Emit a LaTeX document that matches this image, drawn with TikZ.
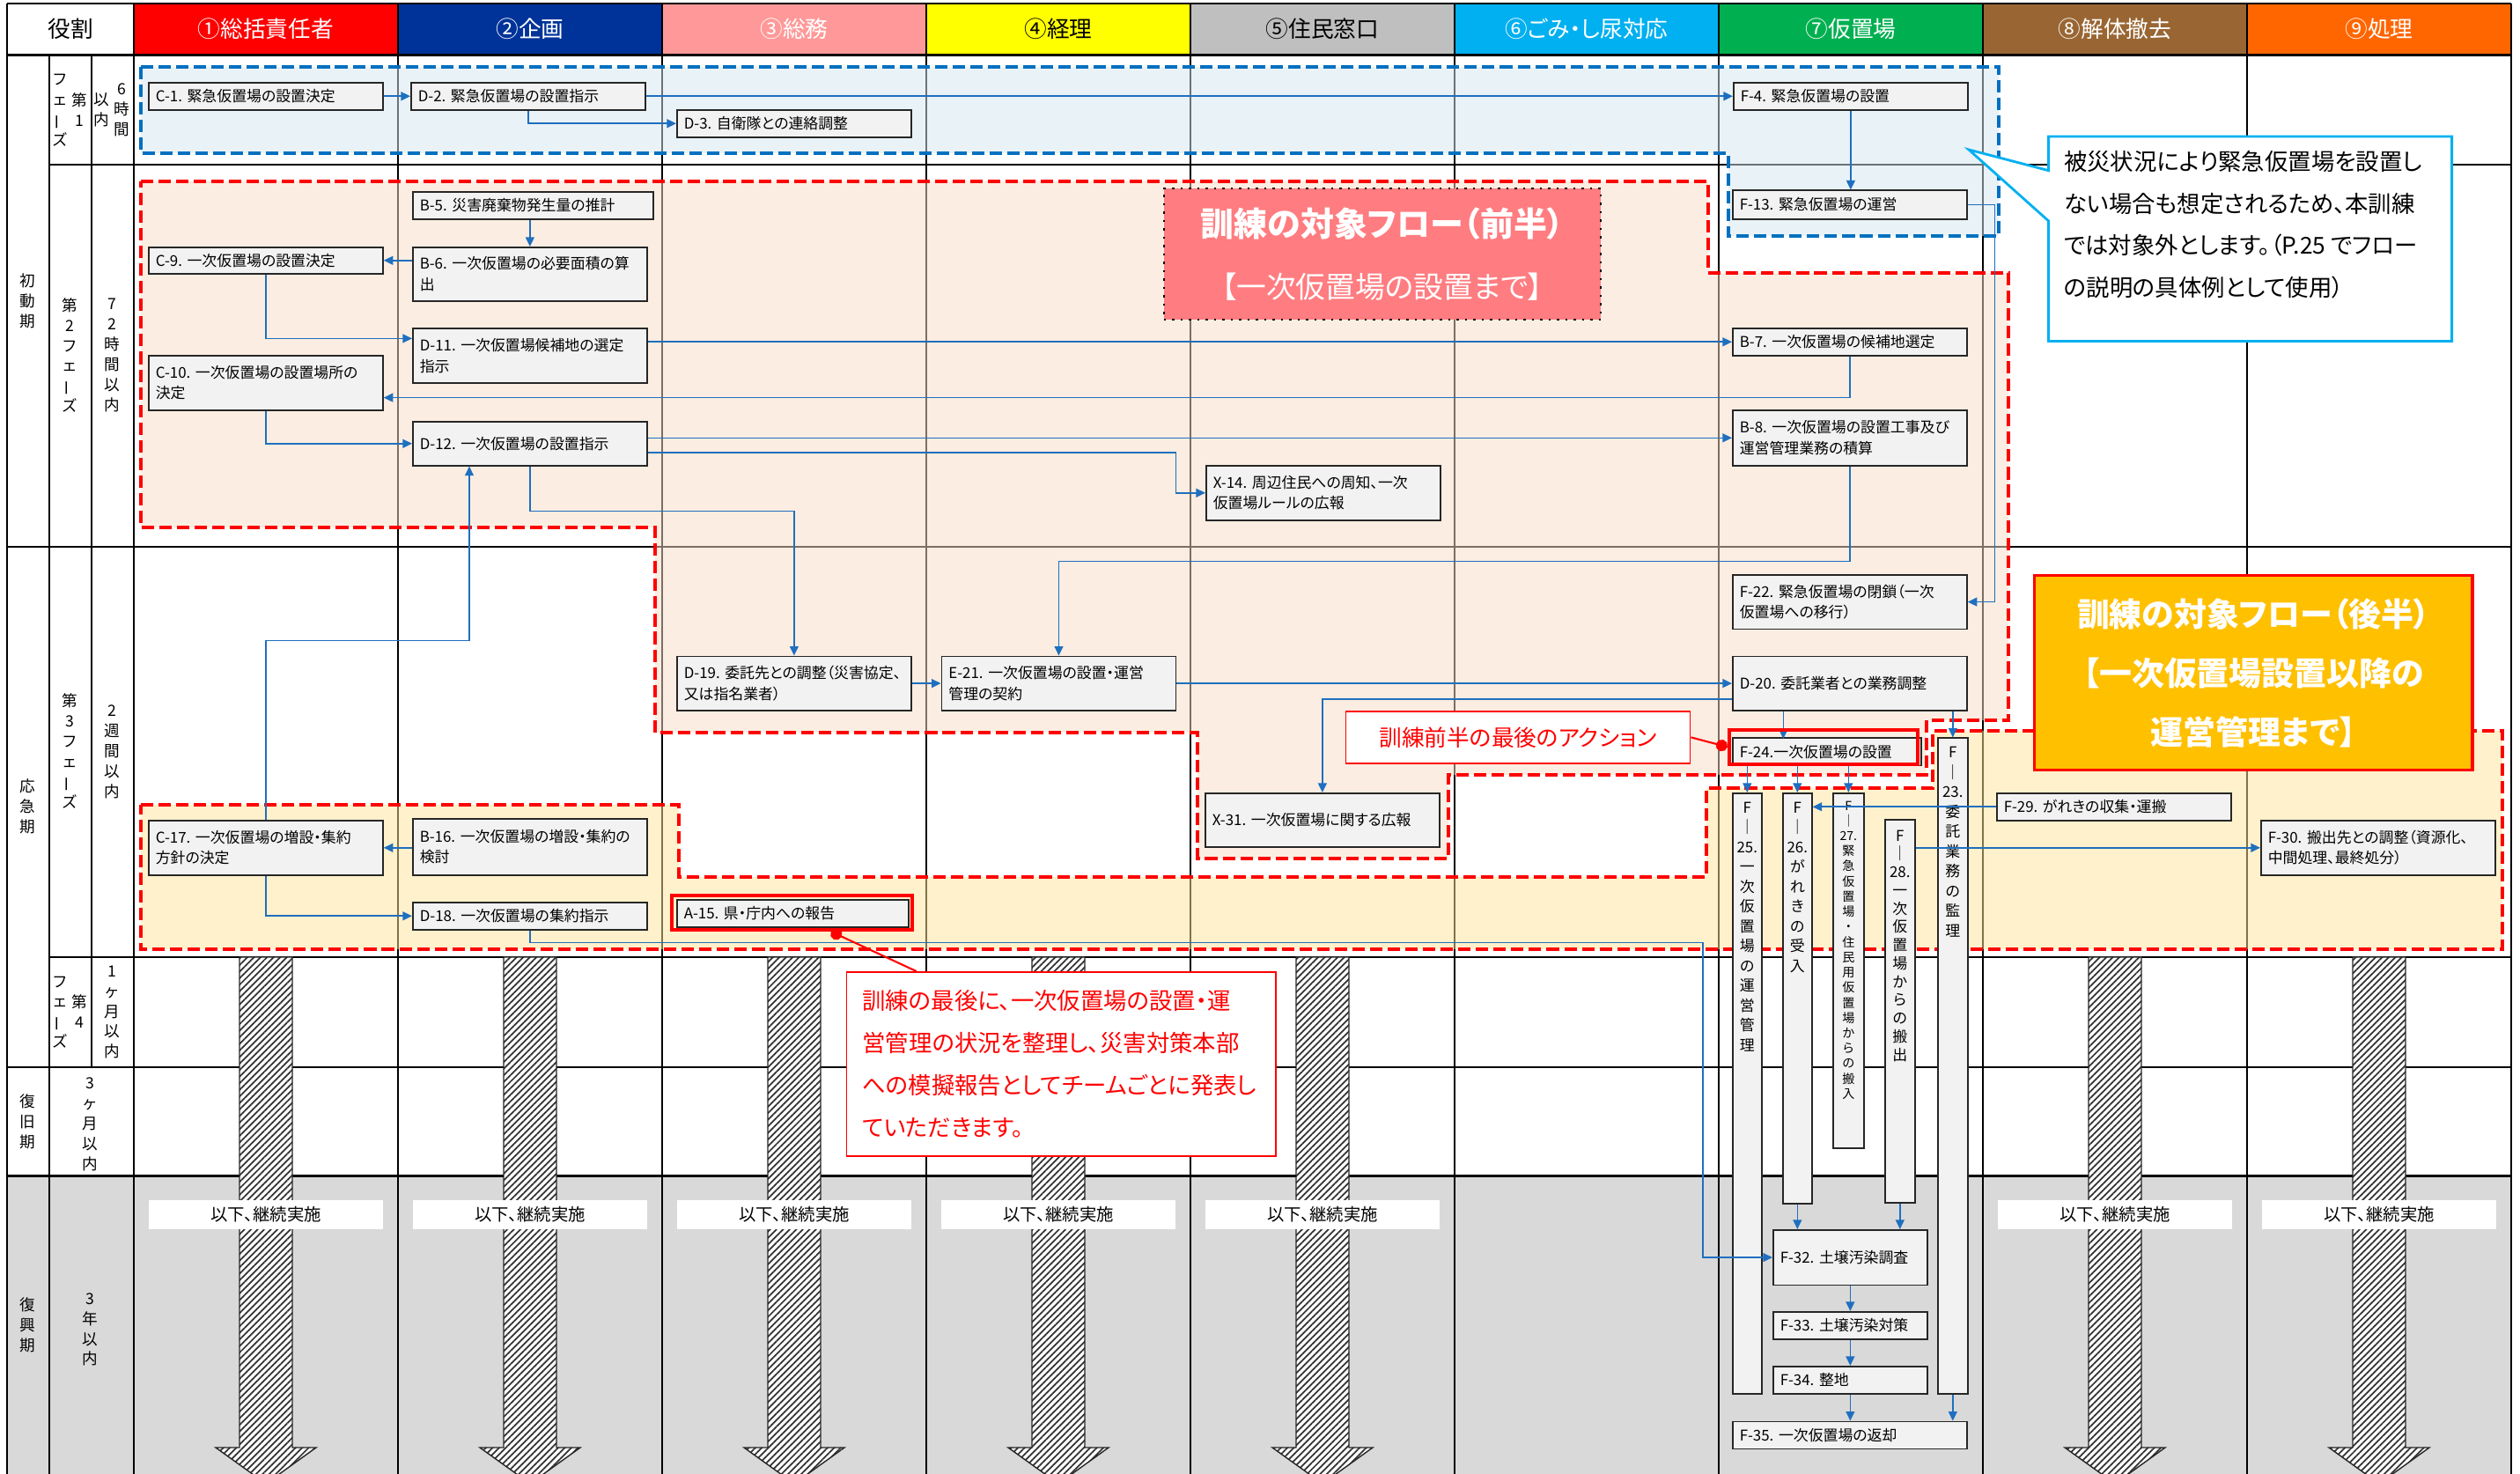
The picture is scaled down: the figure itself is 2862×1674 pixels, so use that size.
\documentclass[tikz,border=0pt]{standalone}
\usepackage{fontspec}
\setmainfont{Noto Sans CJK JP}[RawFeature=+palt]
\usepackage{graphicx}
\usetikzlibrary{arrows.meta,patterns.meta,positioning}
\definecolor{hdrred}{HTML}{FF0000}
\definecolor{hdrblue}{HTML}{003399}
\definecolor{hdrpink}{HTML}{FF9999}
\definecolor{hdryellow}{HTML}{FFFF00}
\definecolor{hdrgray}{HTML}{BFBFBF}
\definecolor{hdrcyan}{HTML}{00B0F0}
\definecolor{hdrgreen}{HTML}{00B050}
\definecolor{hdrbrown}{HTML}{996633}
\definecolor{hdrorange}{HTML}{FF6600}
\definecolor{flowblue}{HTML}{1F6FBF}
\definecolor{dashblue}{HTML}{0070C0}
\definecolor{lightblue}{HTML}{D5E7EE}
\definecolor{peach}{HTML}{F9DDC5}
\definecolor{lightgold}{HTML}{FFE599}
\definecolor{boxgray}{HTML}{F2F2F2}
\definecolor{rowgray}{HTML}{D9D9D9}
\definecolor{salmon}{HTML}{FF7C80}
\definecolor{gold}{HTML}{FFC000}
\newcommand{\vbar}{\rotatebox[origin=c]{90}{ー}}
\tikzset{hdr/.style={minimum width=3cm,minimum height=0.585cm,inner sep=0,font=\fontsize{7.3}{8}\selectfont},
gridline/.style={line width=0.6pt},
vlab/.style={align=center,inner sep=0,font=\fontsize{5}{6.5}\selectfont},
vtext/.style={align=center,inner sep=0,anchor=north,font=\fontsize{4.8}{6.4}\selectfont},
proc/.style={draw=black!85,fill=boxgray,line width=0.45pt,anchor=north west,align=left,inner xsep=0.08cm,inner ysep=0pt,text width=2.5cm,minimum height=0.31cm,font=\fontsize{4.8}{6.7}\selectfont},
vbox/.style={draw=black!85,fill=boxgray,line width=0.45pt,anchor=north west,inner sep=0},
conn/.style={draw=flowblue,line width=0.45pt,-{Triangle[length=3pt,width=2.8pt]}},
zone/.style={line width=1.15pt,dash pattern=on 4pt off 1.7pt,fill opacity=0.5},
redmark/.style={draw=red,line width=1.2pt,inner sep=0},
redlink/.style={draw=red,line width=0.6pt,-{Circle[length=3.8pt]}},
redbox/.style={draw=red,fill=white,line width=0.5pt,text=red,inner sep=0},
cont/.style={fill=white,minimum width=2.66cm,minimum height=0.33cm,inner sep=0,font=\fontsize{5.5}{6}\selectfont},
hatch/.style={draw=black!85,line width=0.4pt,preaction={fill=white},pattern={Lines[angle=45,distance=1.5pt,line width=0.5pt]},pattern color=black!80}}
\begin{document}
\begin{tikzpicture}[x=0.01cm,y=-0.01cm]
\useasboundingbox (0,0) rectangle (2862,1674);
\clip (0,0) rectangle (2862,1674);
\fill[white] (0,0) rectangle (2862,1674);

% header and rows
\node[hdr,minimum width=1.44cm] (role) at (80,33.25) {役割};
\foreach \i/\col/\txt/\tc in {0/hdrred/①総括責任者/white,1/hdrblue/②企画/white,2/hdrpink/③総務/white,3/hdryellow/④経理/black,4/hdrgray/⑤住民窓口/black,5/hdrcyan/⑥ごみ・し尿対応/white,6/hdrgreen/⑦仮置場/white,7/hdrbrown/⑧解体撤去/white,8/hdrorange/⑨処理/white}
  \node[hdr,fill=\col,text=\tc] (h\i) at ({302+300*\i},33.25) {\txt};
\fill[rowgray] (8,1335.5) rectangle (2852,1674);
\foreach \y/\xa in {4/8,62.5/8,186.6/56,621/8,1087/56,1212/8,1335.5/8}
  \draw[gridline] (\xa,\y) -- (2852,\y);
\draw[gridline] (8,4) -- (8,1674) (56,62.5) -- (56,1674) (104,62.5) -- (104,1212);
\foreach \i in {0,...,9}
  \draw[gridline] ({152+300*\i},4) -- ({152+300*\i},1674);

\node[vlab] (era1) at (31,342) {初\\動\\期};
\node[vlab] (era2) at (31,916) {応\\急\\期};
\node[vlab] (era3) at (31,1273.5) {復\\旧\\期};
\node[vlab] (era4) at (31,1505) {復\\興\\期};
\node[vlab] (ph1a) at (68,125) {フ\\ェ\\\vbar\\ズ};
\node[vlab] (ph1b) at (90,124.5) {第\\1};
\node[vlab] (tm1a) at (115.5,124.5) {以\\内};
\node[vlab] (tm1b) at (138,125) {6\\時\\間};
\node[vlab] (ph2) at (79,403.5) {第\\2\\フ\\ェ\\\vbar\\ズ};
\node[vlab] (tm2) at (127,403.5) {7\\2\\時\\間\\以\\内};
\node[vlab] (ph3) at (79,853) {第\\3\\フ\\ェ\\\vbar\\ズ};
\node[vlab] (tm3) at (127,854) {2\\週\\間\\以\\内};
\node[vlab] (ph4a) at (68,1149.5) {フ\\ェ\\\vbar\\ズ};
\node[vlab] (ph4b) at (90,1149) {第\\4};
\node[vlab] (tm4) at (127,1149.5) {1\\ヶ\\月\\以\\内};
\node[vlab] (tm5) at (102,1277) {3\\ヶ\\月\\以\\内};
\node[vlab] (tm6) at (102,1510) {3\\年\\以\\内};

% zones
\draw[zone,draw=dashblue,fill=lightblue] (160,76) -- (2270,76) -- (2270,268) -- (1963,268) -- (1963,174) -- (160,174) -- cycle;
\draw[zone,draw=red,fill=peach] (160,206) -- (1940,206) -- (1940,310) -- (2281,310) -- (2281,818) -- (2188,818) -- (2188,880) -- (1645,880) -- (1645,975) -- (1360,975) -- (1360,832) -- (744,832) -- (744,599) -- (160,599) -- cycle;
\draw[zone,draw=red,fill=lightgold] (160,914) -- (771,914) -- (771,996) -- (1938,996) -- (1938,895) -- (2195,895) -- (2195,830) -- (2842,830) -- (2842,1078) -- (160,1078) -- cycle;

\foreach \i in {0,1,2,3,4,7,8}{
  \pgfmathsetmacro\cx{302+300*\i}
  \draw[hatch] (\cx-30,1087) -- (\cx+30,1087) -- (\cx+30,1644) -- (\cx+57,1644) -- (\cx,1685) -- (\cx-57,1644) -- (\cx-30,1644) -- cycle;
  \node[cont] (cont\i) at (\cx,1379.5) {以下、継続実施};
}

% steps
\node[proc] (c1) at (168,93) {C-1.~緊急仮置場の設置決定};
\node[proc] (d2) at (466,93) {D-2.~緊急仮置場の設置指示};
\node[proc] (d3) at (768,124) {D-3.~自衛隊との連絡調整};
\node[proc] (f4) at (1968,93) {F-4.~緊急仮置場の設置};
\node[proc,minimum height=0.325cm] (f13) at (1967,215.5) {F-13.~緊急仮置場の運営};
\node[proc,text width=2.57cm] (b5) at (468,217) {B-5.~災害廃棄物発生量の推計};
\node[proc,minimum height=0.30cm] (c9) at (168,280) {C-9.~一次仮置場の設置決定};
\node[proc,minimum height=0.61cm] (b6) at (468,280) {B-6.~一次仮置場の必要面積の算\\出};
\node[proc,minimum height=0.615cm] (d11) at (468,372.5) {D-11.~一次仮置場候補地の選定\\指示};
\node[proc,minimum height=0.62cm] (c10) at (168,403) {C-10.~一次仮置場の設置場所の\\決定};
\node[proc] (b7) at (1967,372) {B-7.~一次仮置場の候補地選定};
\node[proc,minimum height=0.63cm] (b8) at (1967,465) {B-8.~一次仮置場の設置工事及び\\運営管理業務の積算};
\node[proc,minimum height=0.50cm] (d12) at (468,478) {D-12.~一次仮置場の設置指示};
\node[proc,minimum height=0.62cm] (x14) at (1369,528) {X-14.~周辺住民への周知、一次\\仮置場ルールの広報};
\node[proc,minimum height=0.616cm] (f22) at (1967,652) {F-22.~緊急仮置場の閉鎖（一次\\仮置場への移行）};
\node[proc,minimum height=0.614cm] (d19) at (768,744.6) {D-19.~委託先との調整（災害協定、\\又は指名業者）};
\node[proc,minimum height=0.614cm] (e21) at (1068.6,744.6) {E-21.~一次仮置場の設置・運営\\管理の契約};
\node[proc,minimum height=0.614cm] (d20) at (1967,744.6) {D-20.~委託業者との業務調整};
\node[proc,text width=1.98cm] (f24) at (1967,837.5) {F-24.一次仮置場の設置};
\node[proc,minimum height=0.61cm] (x31) at (1368,900) {X-31.~一次仮置場に関する広報};
\node[proc,minimum height=0.62cm] (c17) at (168,931) {C-17.~一次仮置場の増設・集約\\方針の決定};
\node[proc,minimum height=0.64cm] (b16) at (468,929) {B-16.~一次仮置場の増設・集約の\\検討};
\node[proc] (d18) at (468,1024) {D-18.~一次仮置場の集約指示};
\node[proc,text width=2.47cm] (a15) at (768,1021) {A-15.~県・庁内への報告};
\node[proc] (f29) at (2267,900) {F-29.~がれきの収集・運搬};
\node[proc,minimum height=0.62cm] (f30) at (2567,931) {F-30.~搬出先との調整（資源化、\\中間処理、最終処分）};
\node[proc,text width=1.59cm,minimum height=0.625cm] (f32) at (2013,1396) {F-32.~土壌汚染調査};
\node[proc,text width=1.59cm] (f33) at (2013,1489) {F-33.~土壌汚染対策};
\node[proc,text width=1.59cm] (f34) at (2013,1551) {F-34.~整地};
\node[proc] (f35) at (1967,1613.6) {F-35.~一次仮置場の返却};

\node[vbox,minimum width=0.33cm,minimum height=6.82cm] (f25) at (1967,900) {};
\node[vbox,minimum width=0.33cm,minimum height=4.66cm] (f26) at (2024,900) {};
\node[vbox,minimum width=0.35cm,minimum height=4.03cm] (f27) at (2081,900) {};
\node[vbox,minimum width=0.34cm,minimum height=4.35cm] (f28) at (2140,930) {};
\node[vbox,minimum width=0.34cm,minimum height=7.445cm] (f23) at (2200,837.5) {};
\node[vtext] (f25t) at ([yshift=-0.1cm]f25.north) {F\\｜\\25.\\一\\次\\仮\\置\\場\\の\\運\\営\\管\\理};
\node[vtext] (f26t) at ([yshift=-0.1cm]f26.north) {F\\｜\\26.\\が\\れ\\き\\の\\受\\入};
\node[vtext,font=\fontsize{4}{4.9}\selectfont] (f27t) at ([yshift=-0.09cm]f27.north) {F\\｜\\27.\\緊\\急\\仮\\置\\場\\・\\住\\民\\用\\仮\\置\\場\\か\\ら\\の\\搬\\入};
\node[vtext,font=\fontsize{4.8}{5.9}\selectfont] (f28t) at ([yshift=-0.12cm]f28.north) {F\\｜\\28.\\一\\次\\仮\\置\\場\\か\\ら\\の\\搬\\出};
\node[vtext] (f23t) at ([yshift=-0.1cm]f23.north) {F\\｜\\23.\\委\\託\\業\\務\\の\\監\\理};

% flows
\draw[conn] (c1.east) -- (d2.west);
\draw[conn] (d2.south) |- (d3.west);
\draw[conn] (d2.east) -- (f4.west);
\draw[conn] (f4.south) -- (f4.south |- f13.north);
\draw[conn] (f13.east) -- ++(30.6,0) |- (f22.east);
\draw[conn] (b5.south -| b6.north) -- (b6.north);
\draw[conn] (b6.west |- c9.east) -- (c9.east);
\draw[conn] (c9.south) |- ([yshift=0.196cm]d11.west);
\draw[conn] (d11.east |- b7.west) -- (b7.west);
\draw[conn] (b7.south) |- ([yshift=-0.168cm]c10.east);
\draw[conn] (c10.south) |- (d12.west);
\draw[conn] (d12.east |- b8.west) -- (b8.west);
\draw[conn] ([yshift=-0.1cm]d12.east) -- ++(599.8,0) |- (x14.west);
\draw[conn] (d12.south) -- ++(0,51) -| (d19.north);
\coordinate (k1) at (533,727.5);
\draw[conn] (c17.north) |- (k1) -- (k1 |- d12.south);
\draw[conn] (b8.south) -- ++(0,107.7) -| (e21.north);
\draw[conn] (d19.east) -- (e21.west);
\draw[conn] (e21.east) -- (d20.west);
\draw[conn] ([yshift=-0.18cm]d20.west) -| (x31.north);
\draw[conn] ([xshift=-0.755cm]d20.south) -- ++(0,31.5);
\draw[conn] (f23.north |- d20.south) -- (f23.north);
\draw[conn] (f25.north |- f24.south) -- (f25.north);
\draw[conn] (f26.north |- f24.south) -- (f26.north);
\draw[conn] (f27.north |- f24.south) -- (f27.north);
\draw[conn] (f29.west) -- (f29.west -| f26.east);
\draw[conn] (f30.west -| f28.east) -- (f30.west);
\draw[conn] (b16.west |- c17.east) -- (c17.east);
\draw[conn] (c17.south) |- (d18.west);
\coordinate (k2) at (1934,1070.7);
\draw[conn] (d18.south) |- (k2) |- (f32.west);
\draw[conn] (f26.south) -- (f26.south |- f32.north);
\draw[conn] (f28.south) -- (f28.south |- f32.north);
\draw[conn] (f32.south) -- (f33.north);
\draw[conn] (f33.south) -- (f34.north);
\draw[conn] (f34.south) -- (f34.south |- f35.north);
\draw[conn] (f23.south) -- (f23.south |- f35.north);

% notes
\node[redmark,minimum width=2.14cm,minimum height=0.39cm] (f24mark) at (2071,848.3) {};
\node[redmark,minimum width=2.73cm,minimum height=0.39cm] (a15mark) at (899.4,1036.4) {};
\node[redbox,minimum width=3.91cm,minimum height=0.59cm,anchor=north west,font=\fontsize{7.3}{8}\selectfont] (ann1) at (1527.5,807) {訓練前半の最後のアクション};
\draw[redlink] (ann1.east) -- (f24mark.west);
\node[redbox,anchor=north west,align=left,text width=4.51cm,inner xsep=0.18cm,minimum height=2.09cm,font=\fontsize{7.5}{13.7}\selectfont] (ann2) at (960.6,1103) {訓練の最後に、一次仮置場の設置・運\\営管理の状況を整理し、災害対策本部\\への模擬報告としてチームごとに発表し\\ていただきます。};
\draw[redlink] ([xshift=0.8cm]ann2.north west) -- ([xshift=0.443cm]a15mark.south);

\node[draw=black,dotted,line width=0.7pt,fill=salmon,text=white,minimum width=4.96cm,minimum height=1.49cm,align=center,font=\fontsize{10.8}{20}\selectfont] (early) at (1570,288.5) {{\bfseries 訓練の対象フロー（前半）}\\{\fontsize{9.6}{20}\selectfont 【一次仮置場の設置まで】}};
\node[draw=red,line width=0.9pt,fill=gold,text=white,minimum width=4.97cm,minimum height=2.21cm,align=center,font=\fontsize{10.5}{19}\selectfont\bfseries] (late) at (2559.3,764.3) {訓練の対象フロー（後半）\\【一次仮置場設置以降の\\運営管理まで】};

\draw[draw=hdrcyan,line width=0.8pt,fill=white] (2326.6,155) -- (2784.6,155) -- (2784.6,387.5) -- (2326.6,387.5) -- (2326.6,251) -- (2236,170) -- (2326.6,193.7) -- cycle;
\node[anchor=west,align=left,inner sep=0,font=\fontsize{7.5}{13.5}\selectfont] (note) at (2343.5,255) {被災状況により緊急仮置場を設置し\\ない場合も想定されるため、本訓練\\では対象外とします。（P.25~でフロー\\の説明の具体例として使用）};
\end{tikzpicture}
\end{document}
